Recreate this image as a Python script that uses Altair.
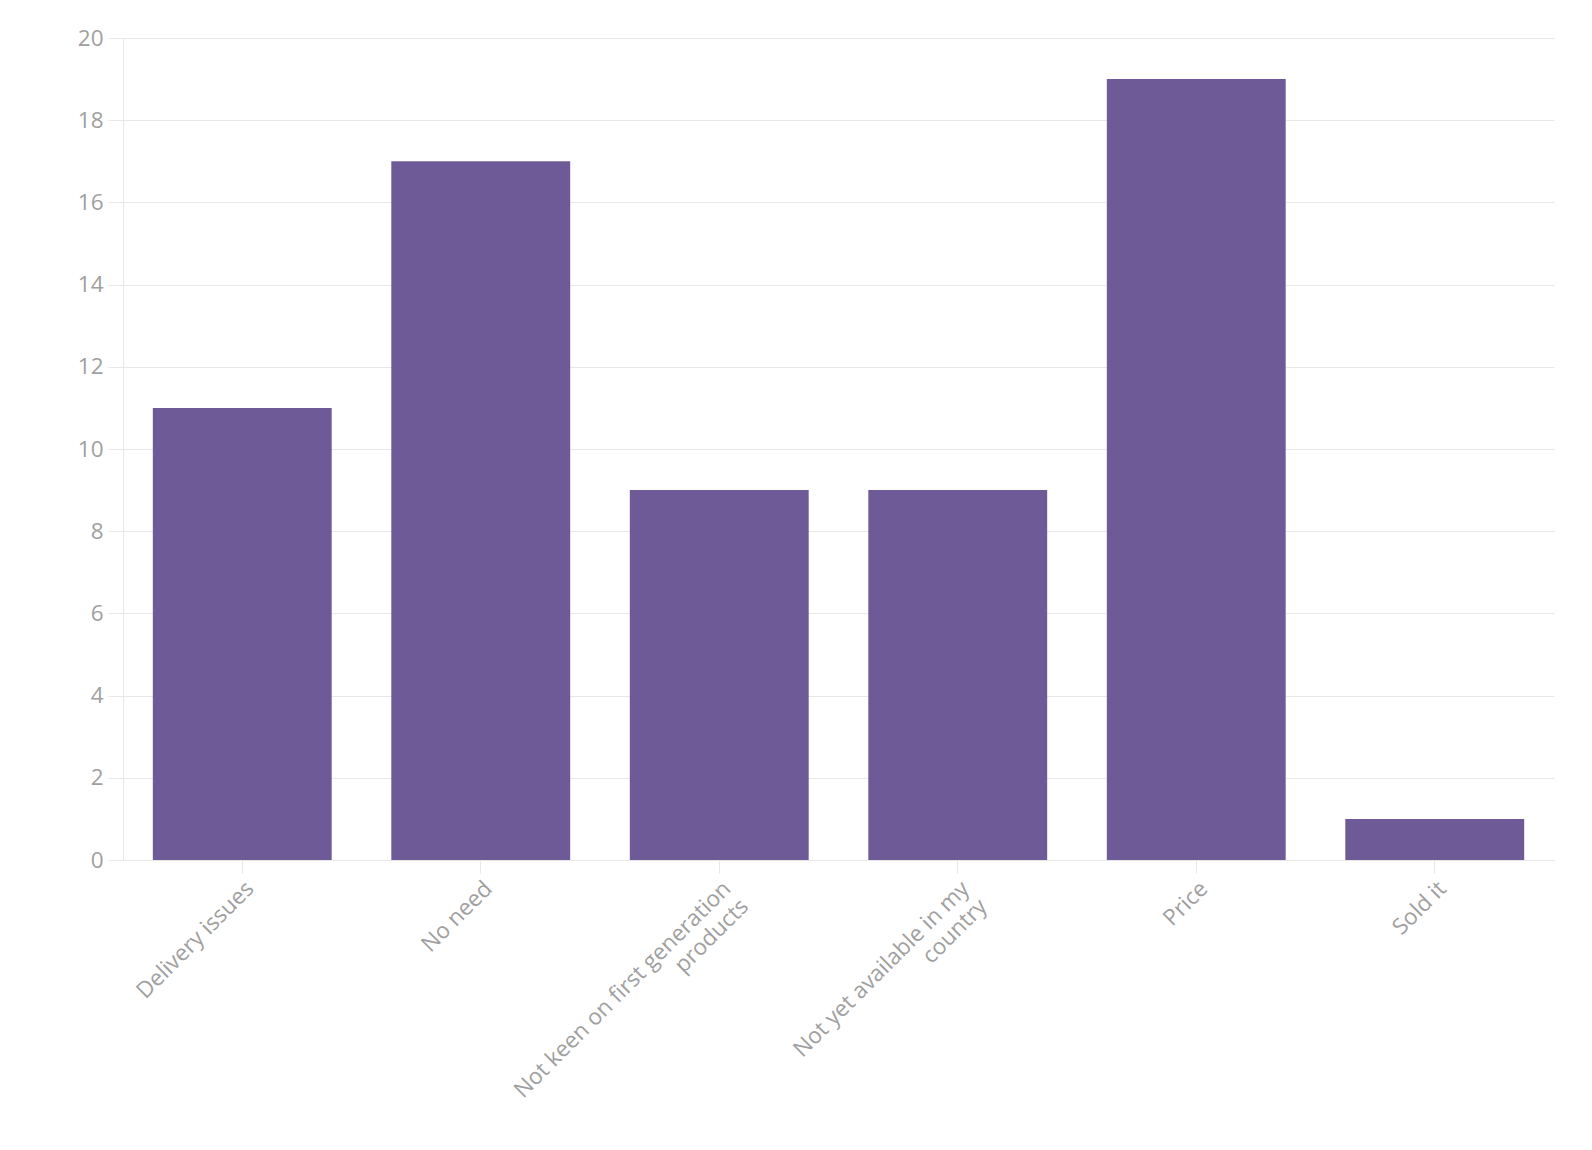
import altair as alt
import pandas as pd

categories = ["Delivery issues", "No need", "Not keen on first generation products",
              "Not yet available in my country", "Price", "Sold it"]
counts = [11, 17, 9, 9, 19, 1]
label_lines = {
    "Not keen on first generation products": ["Not keen on first generation", "products"],
    "Not yet available in my country": ["Not yet available in my", "country"],
}

df = pd.DataFrame({"reason": categories, "count": counts})

expr = "datum.label"
for k, v in label_lines.items():
    expr = f"datum.label == '{k}' ? ['{v[0]}', '{v[1]}'] : " + expr

FONT = "Open Sans"
GRAY = "#a0a0a0"
LINE = "#e8e8e8"

chart = alt.Chart(df).mark_bar(color="#6f5a98", opacity=1).encode(
    x=alt.X("reason:N", sort=categories, title=None,
            scale=alt.Scale(paddingInner=0.25, paddingOuter=0.125),
            axis=alt.Axis(labelAngle=-45, labelExpr=expr, labelFont=FONT, labelFontSize=22.5,
                          labelColor=GRAY, tickColor=LINE, tickSize=13, domainColor=LINE,
                          labelPadding=4, labelLimit=400, labelLineHeight=25)),
    y=alt.Y("count:Q", title=None, scale=alt.Scale(domain=[0, 20]),
            axis=alt.Axis(values=list(range(0, 21, 2)), labelFont=FONT, labelFontSize=22.5,
                          labelColor=GRAY, tickColor=LINE, tickSize=15, domainColor=LINE,
                          gridColor=LINE, labelPadding=5)),
).properties(
    width=1431, height=822,
    autosize=alt.AutoSizeParams(type="none"),
    padding={"left": 115, "top": 30, "right": 30, "bottom": 282},
).configure_view(stroke=None).configure_axis(grid=True).configure_axisX(grid=False)

chart.save("out.html", embed_options={"renderer": "svg", "actions": False})
